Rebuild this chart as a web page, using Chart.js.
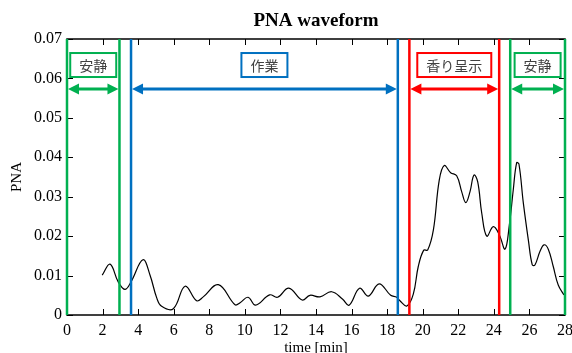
<!DOCTYPE html>
<html>
<head>
<meta charset="utf-8">
<script src="https://cdn.jsdelivr.net/npm/chart.js@4"></script>
<style>
  body { margin: 0; background: #fff; }
</style>
</head>
<body>
<canvas id="myChart" width="572" height="353"></canvas>
<script>
// time [min] and PNA values
const times = [1.98, 2.42, 2.88, 3.26, 3.6, 4.27, 4.67, 5.04, 5.32, 5.98, 6.64, 7.29, 7.66, 8.51,
    9.45, 9.73, 10.18, 10.6, 11.39, 11.84, 12.47, 13.22, 13.66, 14.22, 14.88, 15.5, 15.86, 16.45,
    16.94, 17.55, 18.2, 18.54, 18.72, 19.11, 19.47, 19.75, 20.05, 20.28, 20.6, 20.93, 21.21, 21.57,
    21.91, 22.19, 22.42, 22.66, 22.88, 23.09, 23.32, 23.6, 23.97, 24.31, 24.63, 24.87, 25.09, 25.28,
    25.41, 25.66, 25.94, 26.16, 26.31, 26.59, 26.82, 27.06, 27.34, 27.62, 27.94];
const pna = [0.0101, 0.0129, 0.0084, 0.0065, 0.0084, 0.0140, 0.0101, 0.0044, 0.0022, 0.0016, 0.0073,
    0.0036, 0.0046, 0.0077, 0.0026, 0.0031, 0.0045, 0.0025, 0.0051, 0.0045, 0.0068, 0.0038, 0.0050,
    0.0046, 0.0059, 0.0040, 0.0025, 0.0068, 0.0048, 0.0079, 0.0050, 0.0045, 0.0036, 0.0023, 0.0053,
    0.0123, 0.0164, 0.0165, 0.0216, 0.0342, 0.0379, 0.0361, 0.0353, 0.0313, 0.0285, 0.0313, 0.0355,
    0.0338, 0.0258, 0.0200, 0.0224, 0.0203, 0.0167, 0.0228, 0.0317, 0.0386, 0.0383, 0.0283, 0.0190,
    0.0127, 0.0127, 0.0161, 0.0178, 0.0167, 0.0123, 0.0076, 0.0051];

// experiment phases
const phaseLabels = ['安静', '作業', '香り呈示', '安静'];
const phaseStart = [0, 3.6, 19.25, 24.92];
const phaseEnd = [2.95, 18.6, 24.3, 28];

const xTicks = [0, 2, 4, 6, 8, 10, 12, 14, 16, 18, 20, 22, 24, 26, 28];
const yTicks = [0, 0.01, 0.02, 0.03, 0.04, 0.05, 0.06, 0.07];

const phaseColors = ['#00b050', '#0070c0', '#ff0000', '#00b050'];
const arrowY = 0.0573;
const boxY = 0.0634;

const serif = '"Liberation Serif", "Times New Roman", serif';

const framePlugin = {
    id: 'frame',
    afterDatasetsDraw(chart) {
        const {ctx, chartArea: a, scales: {x, y}} = chart;
        ctx.save();
        ctx.strokeStyle = '#000';
        ctx.lineWidth = 1.5;
        ctx.strokeRect(a.left, a.top, a.right - a.left, a.bottom - a.top);
        ctx.lineWidth = 1;
        ctx.beginPath();
        xTicks.forEach(t => {
            const px = Math.round(x.getPixelForValue(t)) + 0.5;
            ctx.moveTo(px, a.bottom); ctx.lineTo(px, a.bottom - 6);
            ctx.moveTo(px, a.top); ctx.lineTo(px, a.top + 6);
        });
        yTicks.forEach(v => {
            const py = Math.round(y.getPixelForValue(v)) + 0.5;
            ctx.moveTo(a.left, py); ctx.lineTo(a.left + 6, py);
            ctx.moveTo(a.right, py); ctx.lineTo(a.right - 6, py);
        });
        ctx.stroke();

        // phase boundaries, arrows and labels
        const ay = y.getPixelForValue(arrowY);
        const by = y.getPixelForValue(boxY);
        phaseLabels.forEach((label, i) => {
            const color = phaseColors[i];
            const x1 = x.getPixelForValue(phaseStart[i]);
            const x2 = x.getPixelForValue(phaseEnd[i]);
            ctx.strokeStyle = color;
            ctx.fillStyle = color;
            ctx.lineWidth = 2.5;
            ctx.beginPath();
            ctx.moveTo(x1, a.top); ctx.lineTo(x1, a.bottom);
            ctx.moveTo(x2, a.top); ctx.lineTo(x2, a.bottom);
            ctx.stroke();

            const head = 11, half = 5.5;
            ctx.lineWidth = 3;
            ctx.beginPath();
            ctx.moveTo(x1 + head - 1, ay); ctx.lineTo(x2 - head + 1, ay);
            ctx.stroke();
            ctx.beginPath();
            ctx.moveTo(x1 + 1, ay); ctx.lineTo(x1 + 1 + head, ay - half); ctx.lineTo(x1 + 1 + head, ay + half);
            ctx.closePath();
            ctx.moveTo(x2 - 1, ay); ctx.lineTo(x2 - 1 - head, ay - half); ctx.lineTo(x2 - 1 - head, ay + half);
            ctx.closePath();
            ctx.fill();

            ctx.font = '14px "Noto Sans CJK JP", sans-serif';
            const w = ctx.measureText(label).width + 18;
            const cx = (x1 + x2) / 2;
            ctx.fillStyle = '#fff';
            ctx.fillRect(cx - w / 2, by - 12, w, 24);
            ctx.lineWidth = 2;
            ctx.strokeRect(cx - w / 2, by - 12, w, 24);
            ctx.fillStyle = '#404040';
            ctx.textAlign = 'center';
            ctx.textBaseline = 'middle';
            ctx.fillText(label, cx, by + 1);
        });
        ctx.restore();
    }
};

const ctx = document.getElementById('myChart');

new Chart(ctx, {
    type: 'line',
    data: {
        datasets: [{
            label: 'PNA',
            data: times.map((t, i) => ({x: t, y: pna[i]})),
            borderColor: '#000',
            borderWidth: 1.2,
            pointRadius: 0,
            tension: 0.4,
            fill: false
        }]
    },
    options: {
        responsive: false,
        animation: false,
        layout: {padding: {left: 0, right: 7, top: 0, bottom: 0}},
        plugins: {
            legend: {display: false},
            tooltip: {enabled: false},
            title: {
                display: true,
                text: 'PNA waveform',
                fullSize: false,
                color: '#000',
                font: {family: serif, size: 19, weight: 'bold'},
                padding: {top: 10, bottom: 6.2}
            }
        },
        scales: {
            x: {
                type: 'linear',
                min: 0,
                max: 28,
                afterFit: s => { s.height = 38; s.paddingLeft = 0; s.paddingRight = 0; },
                afterBuildTicks: s => { s.ticks = xTicks.map(v => ({value: v})); },
                grid: {display: false, drawTicks: false},
                border: {display: false},
                ticks: {color: '#000', padding: 6, maxRotation: 0, font: {family: serif, size: 16}},
                title: {display: true, text: 'time [min]', color: '#000', font: {family: serif, size: 15}, padding: {top: 0, bottom: -4}}
            },
            y: {
                min: 0,
                max: 0.07,
                afterFit: s => { s.width = 67; s.paddingTop = 0; s.paddingBottom = 0; },
                afterBuildTicks: s => { s.ticks = yTicks.map(v => ({value: v})); },
                grid: {display: false, drawTicks: false},
                border: {display: false},
                ticks: {
                    color: '#000', padding: 5, font: {family: serif, size: 16},
                    callback: v => v === 0 ? '0' : v.toFixed(2)
                },
                title: {display: true, text: 'PNA', color: '#000', font: {family: serif, size: 15}, padding: {top: 8, bottom: 0}}
            }
        }
    },
    plugins: [framePlugin]
});
</script>
</body>
</html>
